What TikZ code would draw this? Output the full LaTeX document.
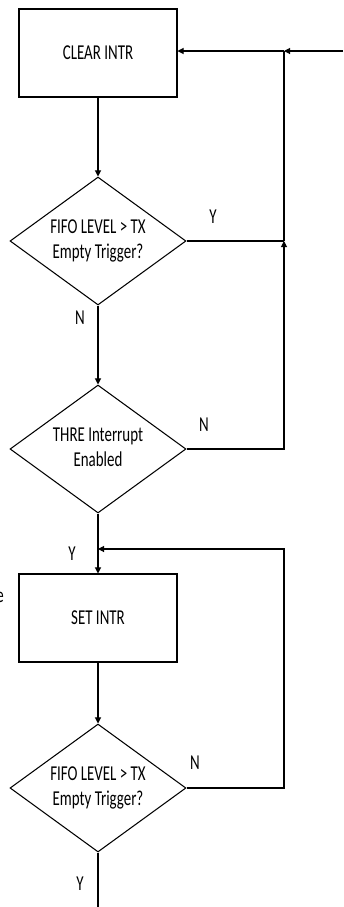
\documentclass[tikz,border=0pt]{standalone}
\usepackage{graphicx}
\usepackage{fontspec}
\setmainfont{Carlito}
\usetikzlibrary{shapes.geometric,arrows.meta}

\newcommand{\tall}[1]{\scalebox{1}[1.42]{#1}}

\begin{document}
\begin{tikzpicture}[
    x=0.02cm, y=-0.02cm,
    every node/.style={font=\fontsize{8.5}{10}\selectfont, text=black},
    procbox/.style={draw, line width=0.6pt, minimum width=3.16cm,
                    minimum height=1.76cm, inner sep=0pt},
    decision/.style={draw, diamond, line width=0.6pt, aspect=1.375,
                     minimum width=3.52cm, minimum height=2.56cm,
                     inner sep=0pt},
    flow/.style={-{Triangle[length=3.5pt, width=3.5pt]}, line width=0.6pt},
    wire/.style={line width=0.6pt},
    lbl/.style={inner sep=0pt},
]
\useasboundingbox (0,0) rectangle (343,907);

% --- Blocks ---
\node[procbox]  (clear) at (98, 53)  {\tall{CLEAR INTR}};
\node[decision] (fifoA) at (98, 241) {\tall{\begin{tabular}{@{}c@{}}FIFO LEVEL > TX\\Empty Trigger?\end{tabular}}};
\node[decision] (thre)  at (98, 449) {\tall{\begin{tabular}{@{}c@{}}THRE Interrupt\\Enabled\end{tabular}}};
\node[procbox]  (set)   at (98, 618) {\tall{SET INTR}};
\node[decision] (fifoB) at (98, 788) {\tall{\begin{tabular}{@{}c@{}}FIFO LEVEL > TX\\Empty Trigger?\end{tabular}}};

% --- Junctions and loose ends ---
\coordinate (entry) at (343, 51);
\coordinate (jtop)  at (284, 51);
\coordinate (jmid)  at (284, 241);
\coordinate (jset)  at (98, 549);
\coordinate (exit)  at (98, 907);

% --- Main flow ---
\draw[flow] (entry) -- (jtop);
\draw[flow] (jtop) -- (clear.east |- jtop);
\draw[flow] (clear.south) -- (fifoA.north);
\draw[flow] (fifoA.south) -- (thre.north);
\draw[flow] (thre.south) -- (set.north);
\draw[flow] (set.south) -- (fifoB.north);
\draw[wire] (fifoB.south) -- (exit);

% --- Loops back ---
\draw[wire] (fifoA.east) -- (jmid);
\draw[wire] (jmid) -- (jtop);
\draw[flow] (thre.east) -| (jmid);
\draw[flow] (fifoB.east) -| (284, 549) -- (jset);

% --- Branch labels ---
\node[lbl] (yA) at (213, 217) {\tall{Y}};
\node[lbl] (nA) at (80, 318)  {\tall{N}};
\node[lbl] (nT) at (204, 425) {\tall{N}};
\node[lbl] (yT) at (72, 554)  {\tall{Y}};
\node[lbl] (nB) at (195, 763) {\tall{N}};
\node[lbl] (yB) at (80, 884)  {\tall{Y}};

% cut-off text at the left edge
\node[lbl] (frag) at (0, 597) {\tall{e}};

\end{tikzpicture}
\end{document}
